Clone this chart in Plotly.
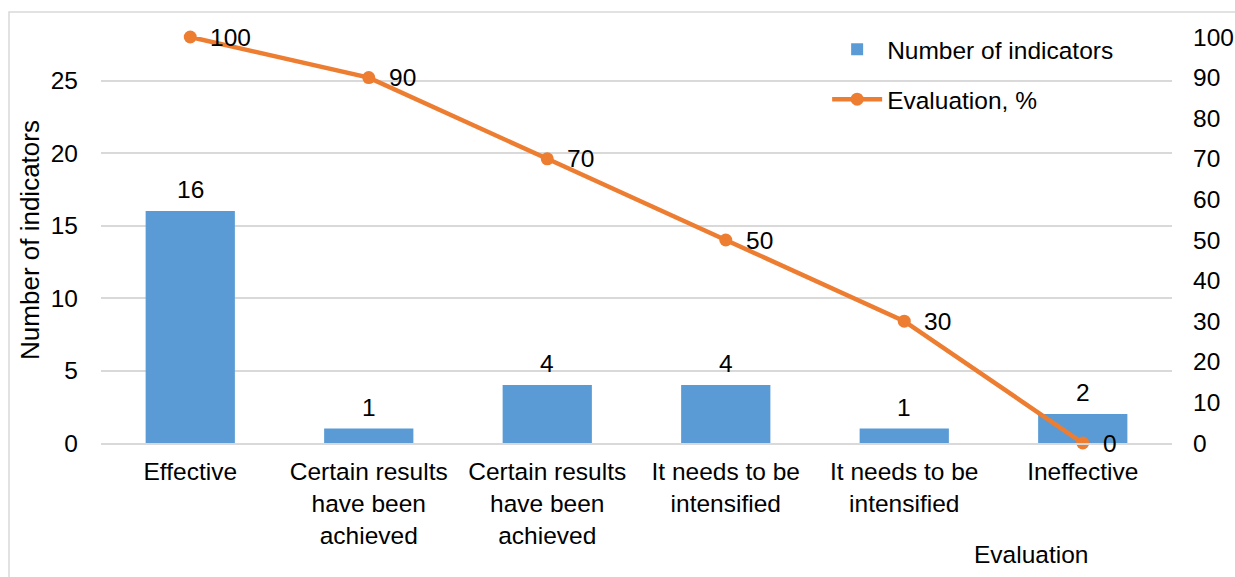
import plotly.graph_objects as go

# Evaluation categories (two pairs share the same wording)
categories = [
    "Effective",
    "Certain results<br>have been<br>achieved",
    "Certain results<br>have been<br>achieved",
    "It needs to be<br>intensified",
    "It needs to be<br>intensified",
    "Ineffective",
]
indicator_counts = [16, 1, 4, 4, 1, 2]
evaluation_pct = [100, 90, 70, 50, 30, 0]

positions = list(range(len(categories)))

FONT = "Liberation Sans, Arial, sans-serif"
BLUE = "#5B9BD5"
ORANGE = "#ED7D31"
GRID = "#D9D9D9"
FS = 24.5

fig = go.Figure()

fig.add_trace(go.Bar(
    x=positions,
    y=indicator_counts,
    name="Number of indicators",
    marker=dict(color=BLUE, line=dict(width=0)),
    width=0.5,
    legendgroup="a",
))

fig.add_trace(go.Scatter(
    x=positions,
    y=evaluation_pct,
    name="Evaluation, %",
    yaxis="y2",
    mode="lines+markers",
    line=dict(color=ORANGE, width=4.5),
    marker=dict(color=ORANGE, size=13),
    cliponaxis=False,
    legendgroup="b",
))

# Value labels: counts above the bars, percentages to the right of the points
for xp, v in zip(positions, indicator_counts):
    fig.add_annotation(
        x=xp, y=v, xref="x", yref="y",
        text=str(v), showarrow=False,
        xanchor="center", yanchor="bottom", yshift=6,
        font=dict(size=FS, family=FONT, color="black"),
    )
for xp, v in zip(positions, evaluation_pct):
    fig.add_annotation(
        x=xp, y=v, xref="x", yref="y2",
        text=str(v), showarrow=False,
        xanchor="left", yanchor="middle", xshift=18,
        font=dict(size=FS, family=FONT, color="black"),
    )

fig.update_layout(
    width=1235,
    height=577,
    margin=dict(l=101, r=63, t=37, b=134),
    paper_bgcolor="white",
    plot_bgcolor="white",
    font=dict(family=FONT, size=FS, color="black"),
    showlegend=True,
    legend=dict(
        x=0.678, y=1.025, xanchor="left", yanchor="top",
        bgcolor="rgba(0,0,0,0)",
        font=dict(size=FS, family=FONT, color="black"),
        tracegroupgap=15,
        traceorder="grouped",
        itemwidth=50,
    ),
    xaxis=dict(
        tickmode="array",
        tickvals=positions,
        ticktext=categories,
        range=[-0.5, len(categories) - 0.5],
        showgrid=False,
        showline=True,
        linecolor=GRID,
        linewidth=2,
        ticks="",
        tickfont=dict(size=FS, family=FONT),
        ticklabelstandoff=6,
        automargin=False,
    ),
    yaxis=dict(
        range=[0, 28],
        tickvals=[0, 5, 10, 15, 20, 25],
        showgrid=True,
        gridcolor=GRID,
        gridwidth=1.5,
        zeroline=False,
        showline=False,
        ticks="",
        tickfont=dict(size=FS, family=FONT),
        ticklabelstandoff=22,
        automargin=False,
        title=dict(text="Number of indicators", font=dict(size=26, family=FONT), standoff=3),
    ),
    yaxis2=dict(
        range=[0, 100],
        tickvals=list(range(0, 101, 10)),
        overlaying="y",
        side="right",
        showgrid=False,
        zeroline=False,
        showline=False,
        ticks="",
        tickfont=dict(size=FS, family=FONT),
        ticklabelstandoff=20,
        automargin=False,
    ),
    bargap=0.5,
)

# X-axis title placed toward the right, below the category labels
fig.add_annotation(
    text="Evaluation",
    xref="paper", yref="paper",
    x=0.868, y=-0.275,
    xanchor="center", yanchor="middle",
    showarrow=False,
    font=dict(size=FS, family=FONT, color="black"),
)

# Light chart-area frame
fig.add_shape(
    type="rect",
    xref="paper", yref="paper",
    x0=(9 - 101) / 1071, x1=1.2,
    y0=-0.6, y1=1 + (37 - 12) / 406,
    line=dict(color=GRID, width=1.5),
    fillcolor="rgba(0,0,0,0)",
    layer="below",
)

fig.write_html("out.html")
